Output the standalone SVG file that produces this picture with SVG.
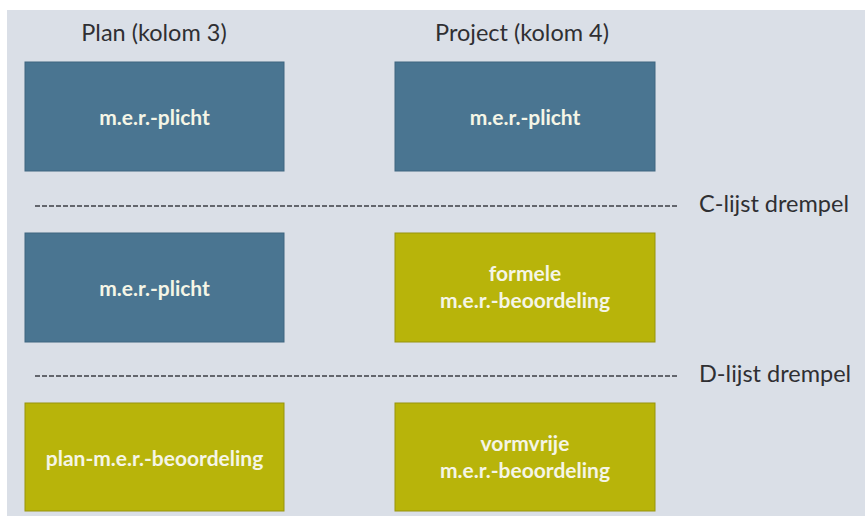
<svg xmlns="http://www.w3.org/2000/svg" width="865" height="516" viewBox="0 0 865 516">
<style>
.bg{fill:#dadfe7}
.blue{fill:#4a7591;stroke:#3e6680;stroke-width:1}
.olive{fill:#b8b40a;stroke:#97940c;stroke-width:1}
.lbl{font-family:Lato,"Open Sans","Liberation Sans",sans-serif;font-weight:bold;font-size:21px;fill:#f5f5e6;text-anchor:middle}
.hdr{font-family:Lato,"Open Sans","Liberation Sans",sans-serif;font-size:23.5px;fill:#2f2f33}
.dash{stroke:#3c3f45;stroke-width:1.6;stroke-dasharray:5 2;fill:none}
</style>
<rect x="0" y="0" width="865" height="516" fill="#ffffff"/>
<rect class="bg" x="7" y="10" width="858" height="506"/>
<g id="headers">
<text class="hdr" x="154" y="41" text-anchor="middle">Plan (kolom 3)</text>
<text class="hdr" x="522" y="41" text-anchor="middle">Project (kolom 4)</text>
</g>
<g id="plan-mer-plicht-1">
<rect class="blue" x="25" y="62" width="259" height="109"/>
<text class="lbl" x="154.5" y="125">m.e.r.-plicht</text>
</g>
<g id="project-mer-plicht">
<rect class="blue" x="395" y="62" width="260" height="109"/>
<text class="lbl" x="525" y="125">m.e.r.-plicht</text>
</g>
<g id="plan-mer-plicht-2">
<rect class="blue" x="25" y="233" width="259" height="109"/>
<text class="lbl" x="154.5" y="296">m.e.r.-plicht</text>
</g>
<g id="formele">
<rect class="olive" x="395" y="233" width="260" height="109"/>
<text class="lbl" x="525" y="281">formele</text>
<text class="lbl" x="525" y="308">m.e.r.-beoordeling</text>
</g>
<g id="plan-beoordeling">
<rect class="olive" x="25" y="403" width="259" height="108"/>
<text class="lbl" x="154.5" y="466">plan-m.e.r.-beoordeling</text>
</g>
<g id="vormvrije">
<rect class="olive" x="395" y="403" width="260" height="108"/>
<text class="lbl" x="525" y="451">vormvrije</text>
<text class="lbl" x="525" y="478">m.e.r.-beoordeling</text>
</g>
<g id="connectors">
<line class="dash" x1="35" y1="206" x2="678" y2="206"/>
<line class="dash" x1="35" y1="376" x2="678" y2="376"/>
</g>
<g id="thresholds">
<text class="hdr" x="699" y="212">C-lijst drempel</text>
<text class="hdr" x="699" y="382">D-lijst drempel</text>
</g>
</svg>
